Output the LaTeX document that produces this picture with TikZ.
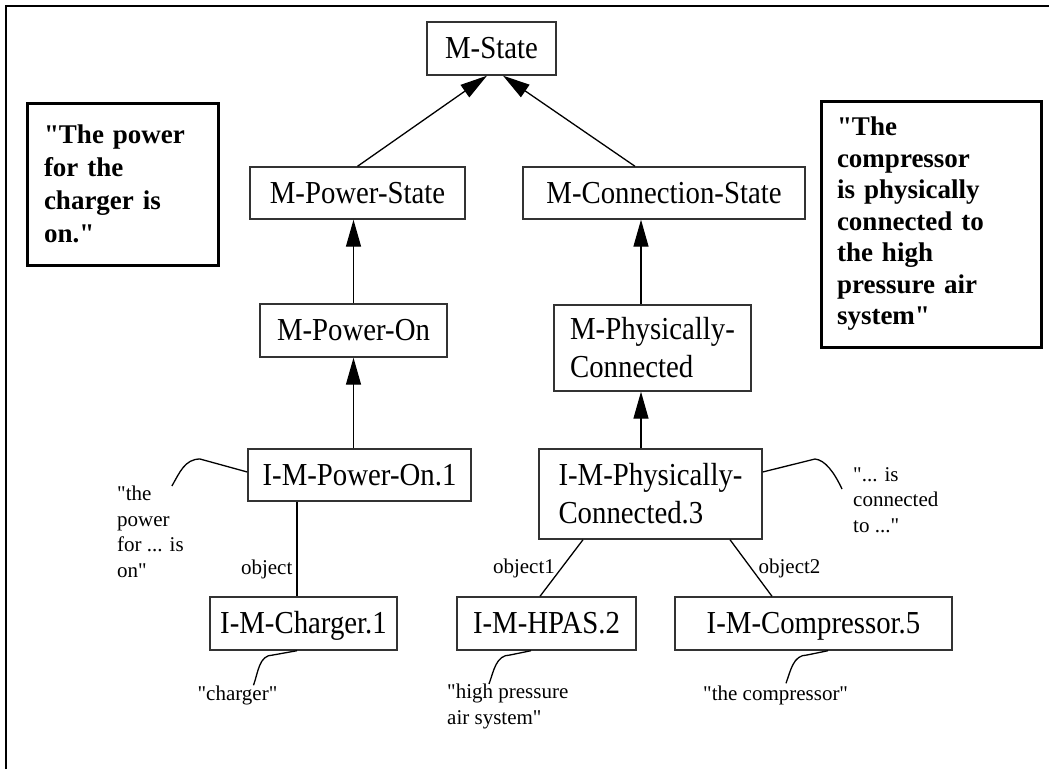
\documentclass[tikz,border=0pt]{standalone}
\usepackage{fontspec}
\setmainfont{Liberation Serif}[Ligatures=TeXOff]
\newfontfamily\boxfont[FakeStretch=0.9, Ligatures=TeXOff]{Liberation Serif}
\usetikzlibrary{arrows.meta}

\begin{document}
\begin{tikzpicture}[x=1pt, y=-1pt,
    box/.style={draw=black!80, line width=1.4pt, inner sep=0pt, font=\boxfont\fontsize{32}{38}\selectfont},
    box1/.style={box, text height=25pt, text depth=5pt},
    quote/.style={draw=black, line width=3pt, inner sep=0pt, align=left, font=\bfseries\fontsize{27}{33}\selectfont},
    note/.style={inner sep=0pt, align=left, font=\fontsize{21}{25.5}\selectfont},
    isa/.style={line width=1.3pt, -{Triangle[length=27pt, width=15pt]}},
    rel/.style={line width=1.3pt},
    squig/.style={line width=1.3pt}]
    \useasboundingbox (0,0) rectangle (1049,769);
    % frame
    \draw[line width=2pt] (6,769) -- (6,5.5) -- (1049,5.5);

    % class hierarchy
    \node[box1, minimum width=129pt, minimum height=53pt] (mstate) at (491.5,48.5) {M-State};
    \node[box1, minimum width=215pt, minimum height=52pt] (mpowerstate) at (357.5,193) {M-Power-State};
    \node[box1, minimum width=282pt, minimum height=52pt] (mconnstate) at (664,193) {M-Connection-State};
    \node[box1, minimum width=187pt, minimum height=53pt] (mpoweron) at (353.5,330.5) {M-Power-On};
    \node[box, minimum width=197pt, minimum height=86pt, align=left] (mphys) at (652.5,348) {M-Physically-\\Connected};

    % instances
    \node[box1, minimum width=223pt, minimum height=52pt] (impoweron) at (359.5,475) {I-M-Power-On.1};
    \node[box, minimum width=223pt, minimum height=90pt, align=left] (imphys) at (650.5,494) {I-M-Physically-\\Connected.3};
    \node[box1, minimum width=187pt, minimum height=53pt] (imcharger) at (303.5,623.5) {I-M-Charger.1};
    \node[box1, minimum width=179pt, minimum height=53pt] (imhpas) at (546.5,623.5) {I-M-HPAS.2};
    \node[box1, minimum width=277pt, minimum height=53pt] (imcomp) at (813.5,623.5) {I-M-Compressor.5};

    % sentences
    \node[quote, minimum width=191pt, minimum height=162pt, text width=157pt] (qpower) at (122.5,184)
        {"The power\\for the\\charger is\\on."};
    \node[quote, minimum width=220pt, minimum height=246pt, text width=188pt,
        font=\bfseries\fontsize{27}{31.5}\selectfont] (qconn) at (931,224)
        {"The\\compressor\\is physically\\connected to\\the high\\pressure air\\system"};

    % phrases
    \node[note, anchor=north west] (annpower) at (117,486) {"the\\power\\for ... is\\on"};
    \node[note] (anncharger) at (237.5,695) {"charger"};
    \node[note, anchor=north west] (annhpas) at (447,684) {"high pressure\\air system"};
    \node[note, anchor=west] (anncomp) at (703,695) {"the compressor"};
    \node[note, anchor=north west] (annconn) at (853,467) {"... is\\connected\\to ..."};

    % isa links
    \draw[isa] (mpowerstate.north) -- ([xshift=-4.5pt]mstate.south);
    \draw[isa] ([xshift=-29pt]mconnstate.north) -- ([xshift=11.5pt]mstate.south);
    \draw[isa] (mpoweron.north) -- (mpoweron.north |- mpowerstate.south);
    \draw[isa] ([xshift=-11.5pt]mphys.north) -- ([xshift=-11.5pt]mphys.north |- mconnstate.south);
    \draw[isa] (mpoweron.south |- impoweron.north) -- (mpoweron.south);
    \draw[isa] ([xshift=-9.5pt]imphys.north) -- ([xshift=-11.5pt]mphys.south);

    % roles
    \draw[rel] ([xshift=-62.5pt]impoweron.south) -- ([xshift=-6.5pt]imcharger.north)
        node[note, pos=0.72, left=4pt] {object};
    \draw[rel] ([xshift=-67.5pt]imphys.south) -- ([xshift=-6.5pt]imhpas.north)
        node[note, midway, left=6pt] {object1};
    \draw[rel] ([xshift=79.5pt]imphys.south) -- ([xshift=-41.5pt]imcomp.north)
        node[note, midway, right=7pt] {object2};

    % phrase hooks
    \draw[squig] ([shift={(0,-3)}]impoweron.west) -- (200,459) to[out=180, in=60] ([xshift=-12pt]annpower.north east);
    \draw[squig] ([xshift=-6.5pt]imcharger.south) -- (273,655) to[out=180, in=70] ([xshift=16pt]anncharger.north);
    \draw[squig] ([xshift=-15.5pt]imhpas.south) -- (510,655) to[out=180, in=70] ([xshift=42pt]annhpas.north west);
    \draw[squig] ([xshift=14.5pt]imcomp.south) -- (807,655) to[out=180, in=70] ([shift={(83,-2)}]anncomp.north west);
    \draw[squig] ([shift={(0,-22)}]imphys.east) -- (815,459) .. controls (825,460) and (834,472) .. ([shift={(-11,22)}]annconn.north west);
\end{tikzpicture}
\end{document}
